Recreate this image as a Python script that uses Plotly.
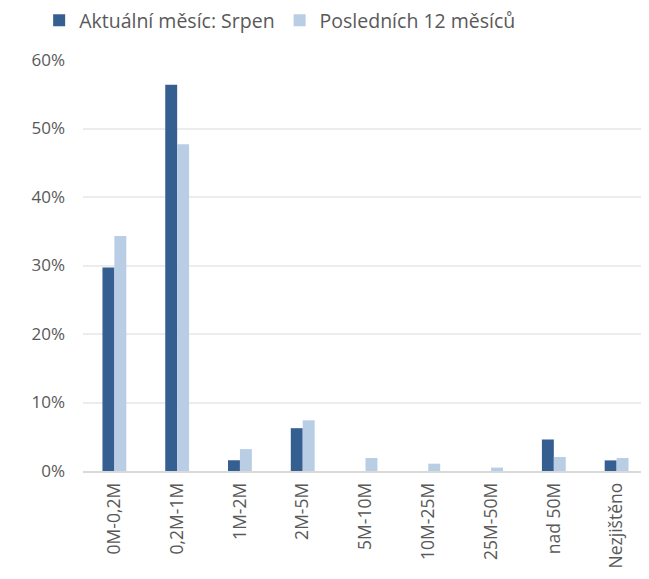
import plotly.graph_objects as go

categories = ["0M-0,2M", "0,2M-1M", "1M-2M", "2M-5M", "5M-10M", "10M-25M", "25M-50M", "nad 50M", "Nezjištěno"]
current_month = [0.297, 0.564, 0.0157, 0.0625, 0.0, 0.0, 0.0, 0.046, 0.0155]
last_12_months = [0.343, 0.477, 0.032, 0.074, 0.019, 0.0107, 0.005, 0.0205, 0.019]
series_names = ["Aktuální měsíc: Srpen", "Posledních 12 měsíců"]
y_ticks = [0, 0.1, 0.2, 0.3, 0.4, 0.5, 0.6]

FONT = "Open Sans, DejaVu Sans, sans-serif"
GRAY = "#595959"

fig = go.Figure()
fig.add_trace(go.Bar(x=categories, y=current_month, name=series_names[0],
                     marker=dict(color="#365f91", line=dict(width=0))))
fig.add_trace(go.Bar(x=categories, y=last_12_months, name=series_names[1],
                     marker=dict(color="#b9cde5", line=dict(width=0))))

fig.update_layout(
    width=649, height=579,
    margin=dict(l=75, r=9, t=52, b=116, autoexpand=False),
    paper_bgcolor="white", plot_bgcolor="white",
    barmode="group", bargap=0.62, bargroupgap=0,
    font=dict(family=FONT, color=GRAY),
    legend=dict(orientation="h", xref="container", yref="paper",
                x=0.048, y=1.096, xanchor="left", yanchor="middle",
                font=dict(size=19.5, color=GRAY, family=FONT),
                itemwidth=30, tracegroupgap=0),
    xaxis=dict(type="category", tickangle=-90, tickfont=dict(size=17.5, color=GRAY),
               showline=True, linecolor="#d9d9d9", linewidth=1.5,
               showgrid=False, ticks="", ticklen=0, ticklabelstandoff=3),
    yaxis=dict(range=[0, 0.6], tickvals=y_ticks, tickformat=".0%",
               tickfont=dict(size=17, color=GRAY),
               showgrid=True, gridcolor="#ececec", gridwidth=1.5,
               zeroline=False, showline=False, ticks="", ticklabelstandoff=17),
)

fig.write_html("out.html")
